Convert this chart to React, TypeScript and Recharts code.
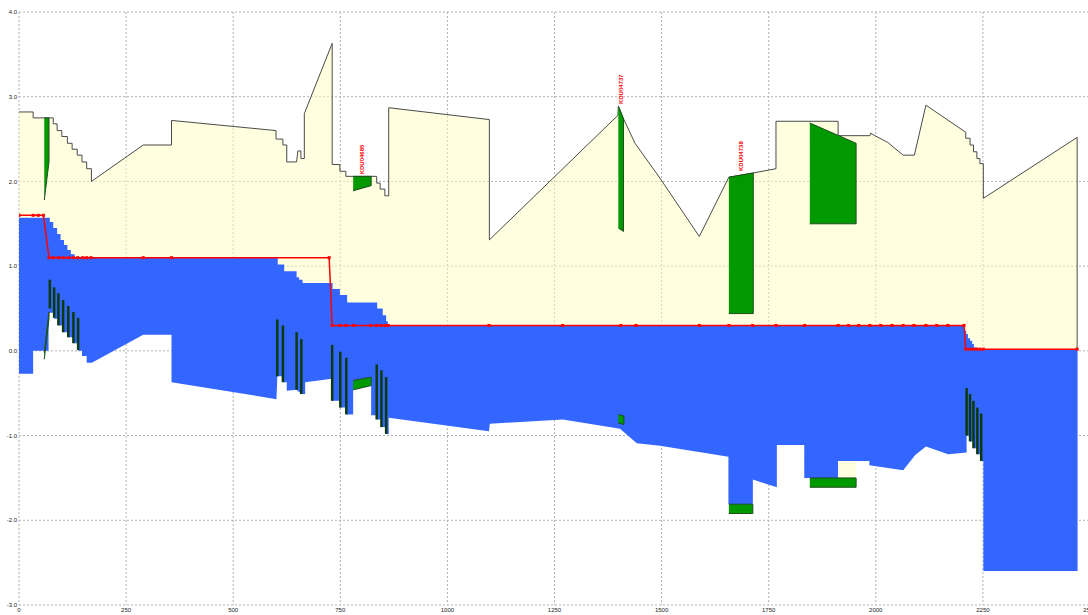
import React from 'react';
import { ScatterChart, Scatter, XAxis, YAxis, CartesianGrid } from 'recharts';

type Pt = [number, number];

// Chainage (m) vs level (m) along the sewer run
const groundProfile: Pt[] = [
    [0, 2.82], [33, 2.82], [33, 2.75], [80, 2.75], [80, 2.68], [89, 2.68], [89, 2.6], [100, 2.6],
    [100, 2.53], [113, 2.53], [113, 2.45], [124, 2.45], [124, 2.38], [136, 2.38], [136, 2.31],
    [147, 2.31], [147, 2.23], [158, 2.23], [158, 2.15], [169, 2.15], [169, 2.0], [290, 2.43],
    [356, 2.43], [356, 2.72], [600, 2.6], [600, 2.5], [616, 2.5], [616, 2.43], [625, 2.43],
    [625, 2.23], [648, 2.23], [651, 2.36], [658, 2.36], [658, 2.27], [666, 2.27], [666, 2.8],
    [731, 3.63], [731, 2.2], [749, 2.2], [749, 2.12], [763, 2.12], [763, 2.06], [835, 2.06],
    [835, 1.98], [843, 1.98], [843, 1.91], [854, 1.91], [854, 1.83], [863, 1.83], [863, 2.87],
    [1098, 2.73], [1098, 1.31], [1398, 2.78], [1399, 2.89], [1411, 2.74], [1438, 2.45],
    [1496, 2.04], [1588, 1.35], [1657, 2.05], [1714, 2.1], [1767, 2.15], [1767, 2.71],
    [1912, 2.71], [1912, 2.54], [1986, 2.54], [1988, 2.57], [1998, 2.54], [2028, 2.46],
    [2064, 2.31], [2090, 2.31], [2117, 2.9], [2210, 2.58], [2210, 2.51], [2220, 2.51],
    [2220, 2.43], [2228, 2.43], [2228, 2.35], [2236, 2.35], [2236, 2.27], [2243, 2.27],
    [2243, 2.21], [2251, 2.21], [2251, 1.8], [2470, 2.52], [2470, 0.02],
];

const waterProfile: Pt[] = [
    [0, 1.57], [72, 1.57], [72, 1.52], [80, 1.52], [80, 1.45], [89, 1.45], [89, 1.38], [97, 1.38],
    [97, 1.31], [105, 1.31], [105, 1.25], [113, 1.25], [113, 1.19], [121, 1.19], [121, 1.14],
    [130, 1.14], [130, 1.1], [604, 1.1], [604, 1.02], [619, 1.02], [619, 0.94], [648, 0.94],
    [648, 0.87], [654, 0.87], [654, 0.84], [662, 0.84], [662, 0.8], [732, 0.8], [732, 0.73],
    [749, 0.73], [749, 0.66], [766, 0.66], [766, 0.57], [836, 0.57], [836, 0.5], [849, 0.5],
    [849, 0.42], [857, 0.42], [857, 0.35], [861, 0.35], [861, 0.3], [2206, 0.3], [2206, 0.24],
    [2211, 0.24], [2211, 0.2], [2215, 0.2], [2215, 0.15], [2220, 0.15], [2220, 0.12],
    [2225, 0.12], [2225, 0.08], [2229, 0.08], [2229, 0.04], [2236, 0.04], [2236, 0.02],
    [2471, 0.02],
];

const bedProfile: Pt[] = [
    [0, -0.27], [33, -0.27], [33, 0.0], [69, 0.0], [69, 0.45], [82, 0.45], [82, 0.38], [92, 0.38],
    [92, 0.3], [103, 0.3], [103, 0.22], [115, 0.22], [115, 0.16], [127, 0.16], [127, 0.09],
    [138, 0.09], [138, 0.0], [147, 0.0], [147, -0.06], [158, -0.06], [158, -0.14], [170, -0.14],
    [290, 0.19], [356, 0.19], [356, -0.37], [601, -0.57], [603, -0.3], [616, -0.3], [616, -0.37],
    [625, -0.37], [625, -0.47], [648, -0.46], [659, -0.51], [668, -0.51], [668, -0.37],
    [730, -0.33], [731, -0.59], [750, -0.59], [750, -0.67], [764, -0.67], [764, -0.75],
    [780, -0.75], [780, -0.46], [822, -0.41], [822, -0.76], [835, -0.76], [835, -0.81],
    [846, -0.81], [846, -0.9], [857, -0.9], [857, -0.98], [863, -0.98], [863, -0.79],
    [1097, -0.95], [1099, -0.86], [1269, -0.81], [1403, -0.92], [1442, -1.09], [1496, -1.12],
    [1656, -1.25], [1656, -1.81], [1713, -1.81], [1713, -1.52], [1769, -1.61], [1769, -1.11],
    [1833, -1.11], [1833, -1.5], [1912, -1.5], [1912, -1.3], [1985, -1.3], [1985, -1.35],
    [2064, -1.41], [2092, -1.23], [2117, -1.13], [2169, -1.22], [2212, -1.2], [2212, -1.0],
    [2220, -1.0], [2220, -1.07], [2228, -1.07], [2228, -1.15], [2237, -1.15], [2237, -1.22],
    [2246, -1.22], [2246, -1.3], [2251, -1.3], [2251, -2.6], [2471, -2.6],
];

const gradeLine: Pt[] = [
    [0, 1.6], [33, 1.6], [45, 1.6], [57, 1.6], [70, 1.1], [80, 1.1], [92, 1.1], [103, 1.1],
    [115, 1.1], [127, 1.1], [137, 1.1], [149, 1.1], [158, 1.1], [168, 1.1], [290, 1.1], [356, 1.1],
    [724, 1.1], [731, 0.3], [750, 0.3], [763, 0.3], [781, 0.3], [821, 0.3], [835, 0.3], [845, 0.3],
    [855, 0.3], [862, 0.3], [1097, 0.3], [1269, 0.3], [1405, 0.3], [1440, 0.3], [1588, 0.3],
    [1657, 0.3], [1712, 0.3], [1767, 0.3], [1834, 0.3], [1912, 0.3], [1936, 0.3], [1960, 0.3],
    [1986, 0.3], [2011, 0.3], [2038, 0.3], [2064, 0.3], [2089, 0.3], [2117, 0.3], [2142, 0.3],
    [2168, 0.3], [2206, 0.3], [2210, 0.02], [2220, 0.02], [2228, 0.02], [2236, 0.02],
    [2243, 0.02], [2251, 0.02], [2470, 0.02],
];

// Chamber outlines: top edge left to right, then bottom edge left to right
const chambers: { name?: string; top: Pt[]; bottom: Pt[] }[] = [
    { top: [[59, 2.75], [70, 2.75]], bottom: [[59, 1.78], [70, 2.23]] },
    { top: [[59, -0.02], [70, 0.46]], bottom: [[59, -0.1], [70, 0.38]] },
    { name: 'KDU04685', top: [[780, 2.06], [822, 2.06]], bottom: [[780, 1.89], [822, 1.95]] },
    { top: [[780, -0.35], [822, -0.31]], bottom: [[780, -0.46], [822, -0.41]] },
    { name: 'KDU04737', top: [[1399, 2.89], [1411, 2.74]], bottom: [[1399, 1.45], [1411, 1.41]] },
    { top: [[1399, -0.75], [1412, -0.77]], bottom: [[1399, -0.85], [1412, -0.87]] },
    { name: 'KDU04738', top: [[1657, 2.05], [1714, 2.1]], bottom: [[1657, 0.44], [1714, 0.44]] },
    { top: [[1657, -1.81], [1713, -1.81]], bottom: [[1657, -1.92], [1713, -1.92]] },
    { top: [[1846, 2.69], [1954, 2.45]], bottom: [[1846, 1.5], [1954, 1.5]] },
    { top: [[1846, -1.5], [1954, -1.5]], bottom: [[1846, -1.61], [1954, -1.61]] },
];

const soilPocket = { top: [[1912, -1.3], [1954, -1.3]] as Pt[], bottom: [[1912, -1.5], [1954, -1.5]] as Pt[] };

// Lateral connections: chainage, top level, invert level
const connections: [number, number, number][] = [
    [72, 0.84, 0.5], [82, 0.75, 0.39], [92, 0.68, 0.3], [103, 0.6, 0.22], [115, 0.53, 0.16],
    [127, 0.46, 0.09], [138, 0.39, 0.01],
    [603, 0.37, -0.3], [616, 0.3, -0.37], [648, 0.22, -0.46], [659, 0.14, -0.51], [731, 0.07, -0.59],
    [750, -0.01, -0.67], [764, -0.08, -0.75], [835, -0.16, -0.81], [846, -0.23, -0.9], [857, -0.31, -0.98],
    [2212, -0.44, -1.0], [2220, -0.51, -1.07], [2228, -0.59, -1.15], [2237, -0.67, -1.22], [2246, -0.74, -1.3],
];

const xTicks = [0, 250, 500, 750, 1000, 1250, 1500, 1750, 2000, 2250, 2500];
const yTicks = [-3, -2, -1, 0, 1, 2, 3, 4];

const toPoints = (pts: Pt[]) => pts.map(([x, y]) => ({ x, y }));
const outline = (top: Pt[], bottom: Pt[]) => toPoints([...top, ...bottom.slice().reverse()]);

const NoMarker = () => <g />;

const GradeMarker = (props: any) => (
    <rect x={props.cx - 1.5} y={props.cy - 1.5} width={3} height={3} fill="#ff0000" />
);

const ChamberLabel = (props: any) => {
    const { cx, cy, payload } = props;
    return (
        <text
            x={cx + 2}
            y={cy}
            transform={`rotate(-90 ${cx} ${cy})`}
            fill="#ff0000"
            fontSize={6}
            fontWeight="bold"
            fontFamily="'Liberation Sans', Arial, sans-serif"
            dominantBaseline="central"
        >
            {payload.name}
        </text>
    );
};

const labelPoints = chambers
    .filter((c) => c.name)
    .map((c) => ({
        x: (c.top[0][0] + c.top[c.top.length - 1][0]) / 2,
        y: Math.max(...c.top.map((p) => p[1])),
        name: c.name,
    }));

const tickStyle = { fontSize: 6, fill: '#222', fontFamily: "'Liberation Sans', Arial, sans-serif" };

const App: React.FC = () => {
    return (
        <div style={{ position: 'fixed', left: 0, top: 0, width: 1088, height: 615, overflow: 'hidden', background: '#fff' }}>
            <ScatterChart width={1100} height={615} margin={{ top: 12, right: 10, bottom: 0, left: 0 }}>
                <CartesianGrid stroke="#b0b0b0" strokeDasharray="2 2" />
                <XAxis
                    type="number"
                    dataKey="x"
                    domain={[0, 2500]}
                    ticks={xTicks}
                    allowDataOverflow
                    height={10}
                    axisLine={false}
                    tickLine={false}
                    tickSize={0}
                    tickMargin={3}
                    tick={tickStyle}
                />
                <YAxis
                    type="number"
                    dataKey="y"
                    domain={[-3, 4]}
                    ticks={yTicks}
                    allowDataOverflow
                    width={19}
                    axisLine={false}
                    tickLine={false}
                    tickSize={0}
                    tickMargin={2}
                    tick={tickStyle}
                    tickFormatter={(v: number) => v.toFixed(1)}
                />

                <Scatter
                    data={outline(groundProfile, waterProfile)}
                    shape={NoMarker}
                    line={{ fill: '#ffffc1', fillOpacity: 0.5, stroke: 'none' }}
                    isAnimationActive={false}
                />
                <Scatter
                    data={outline(waterProfile, bedProfile)}
                    shape={NoMarker}
                    line={{ fill: '#3366ff', stroke: 'none' }}
                    isAnimationActive={false}
                />
                <Scatter
                    data={outline(soilPocket.top, soilPocket.bottom)}
                    shape={NoMarker}
                    line={{ fill: '#ffffe0', stroke: 'none' }}
                    isAnimationActive={false}
                />
                <Scatter
                    data={toPoints(groundProfile)}
                    shape={NoMarker}
                    line={{ stroke: '#4a4a4a', strokeWidth: 1, fill: 'none' }}
                    isAnimationActive={false}
                />
                {chambers.map((c, i) => (
                    <Scatter
                        key={`ch-${i}`}
                        data={outline(c.top, c.bottom)}
                        shape={NoMarker}
                        line={{ fill: '#009900', stroke: '#1e4d1e', strokeWidth: 1 }}
                        isAnimationActive={false}
                    />
                ))}
                {connections.map(([x, top, bottom], i) => (
                    <Scatter
                        key={`cn-${i}`}
                        data={toPoints([[x, top], [x, bottom]])}
                        shape={NoMarker}
                        line={{ stroke: '#0d3a0d', strokeWidth: 2.5, fill: 'none' }}
                        isAnimationActive={false}
                    />
                ))}
                <Scatter
                    data={toPoints(gradeLine)}
                    fill="#ff0000"
                    shape={GradeMarker}
                    line={{ stroke: '#ff0000', strokeWidth: 1.5, fill: 'none' }}
                    isAnimationActive={false}
                />
                <Scatter data={labelPoints} shape={ChamberLabel} isAnimationActive={false} />
            </ScatterChart>
        </div>
    );
};

export default App;
